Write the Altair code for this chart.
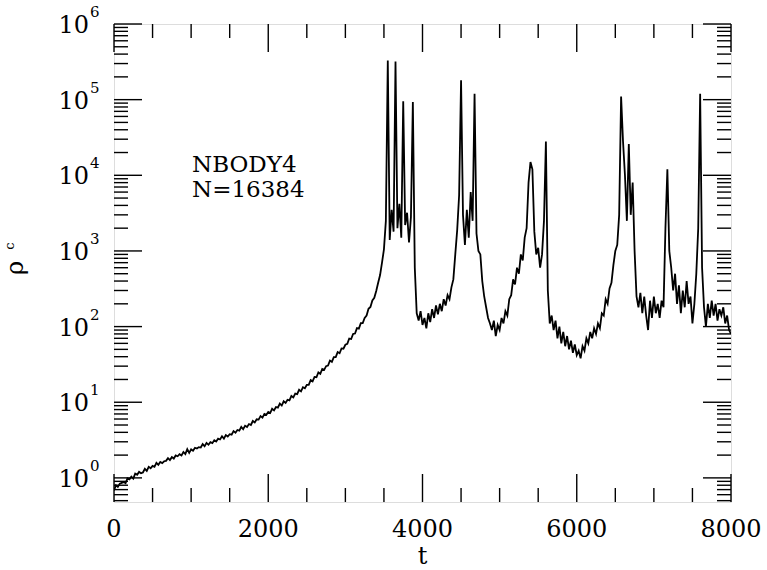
import altair as alt
import pandas as pd

FONT = "DejaVu Serif"

rho = [
    0.68, 0.80, 0.76, 0.84, 0.86, 0.88, 0.85, 0.99, 0.96, 1.04,
    0.98, 1.14, 1.10, 1.20, 1.15, 1.18, 1.32, 1.24, 1.40, 1.34,
    1.44, 1.40, 1.58, 1.49, 1.62, 1.57, 1.66, 1.68, 1.82, 1.72,
    1.88, 1.80, 1.98, 1.93, 2.06, 1.98, 2.20, 2.06, 2.40, 2.14,
    2.38, 2.28, 2.50, 2.44, 2.55, 2.52, 2.80, 2.62, 2.90, 2.74,
    2.96, 2.88, 3.15, 3.02, 3.30, 3.22, 3.55, 3.30, 3.68, 3.52,
    3.78, 3.72, 4.15, 3.96, 4.30, 4.22, 4.72, 4.40, 4.90, 4.72,
    5.15, 5.00, 5.65, 5.40, 5.95, 5.90, 6.55, 6.25, 7.00, 6.80,
    7.45, 7.20, 8.20, 7.80, 8.65, 8.50, 9.60, 9.05, 10.3, 9.80,
    10.8, 10.6, 12.1, 11.6, 13.0, 12.8, 14.6, 13.9, 15.8, 15.3,
    17.0, 17.0, 19.6, 18.9, 21.6, 21.4, 24.8, 23.8, 27.6, 26.8,
    30.0, 30.5, 35.5, 34.2, 39.5, 39.6, 46.0, 44.4, 51.5, 51.0,
    57.5, 59.0, 69.5, 68.5, 80.0, 81.0, 95.5, 94.0, 111, 111,
    130, 140, 172, 182, 222, 240, 295, 380, 480, 700,
    1050, 2500, 330000, 1400, 3500, 1800, 320000, 2000, 4200, 1500,
    95000, 2200, 3200, 1300, 2800, 93000, 600, 150, 120, 160,
    105, 130, 95, 150, 115, 170, 130, 190, 145, 200,
    160, 230, 190, 260, 230, 330, 420, 900, 1900, 5500,
    180000, 3000, 1200, 3500, 1500, 6000, 2500, 120000, 1700, 1000,
    900, 400, 250, 180, 130, 110, 90, 120, 75, 105,
    90, 130, 110, 160, 140, 230, 260, 420, 360, 600,
    500, 900, 750, 1500, 2000, 8000, 15000, 12000, 1800, 900,
    1100, 600, 900, 2500, 28000, 300, 110, 140, 90, 120,
    70, 100, 60, 85, 55, 75, 50, 65, 45, 58,
    42, 48, 38, 55, 48, 70, 60, 85, 70, 95,
    80, 110, 95, 150, 140, 230, 200, 320, 380, 650,
    1000, 1200, 3000, 110000, 28000, 10000, 2500, 26000, 3000, 8000,
    1000, 250, 180, 280, 150, 250, 140, 90, 220, 130,
    250, 150, 200, 130, 220, 180, 2000, 12000, 1000, 600,
    300, 500, 200, 350, 150, 300, 180, 400, 200, 250,
    110, 200, 500, 2000, 120000, 600, 180, 100, 200, 130,
    220, 140, 200, 120, 170, 140, 180, 110, 140, 90,
    80,
]
t = [25 * i for i in range(len(rho))]

x_labels = [0, 2000, 4000, 6000, 8000]
x_minor = [500, 1000, 1500, 2500, 3000, 3500, 4500, 5000, 5500, 6500, 7000, 7500]
y_major = [1, 10, 100, 1000, 10000, 100000, 1000000]
y_exp = ["0", "1", "2", "3", "4", "5", "6"]
y_minor = [0.5, 0.6, 0.7, 0.8, 0.9] + [k * 10 ** d for d in range(0, 6) for k in range(2, 10)]

W, H = 617, 478
MAJ, MIN = 28, 14

df = pd.DataFrame({"t": t, "rho": rho})
xmaj = pd.DataFrame({"v": x_labels, "lab": [str(v) for v in x_labels]})
xmin = pd.DataFrame({"v": x_minor})
ymaj = pd.DataFrame({"v": y_major, "e": y_exp, "base": ["10"] * len(y_major)})
ymin = pd.DataFrame({"v": y_minor})

xs = alt.Scale(domain=[0, 8000], nice=False, zero=False)
ys = alt.Scale(type="log", domain=[0.48, 1e6], nice=False)

line = alt.Chart(df).mark_line(color="black", strokeWidth=1.8, clip=True).encode(
    x=alt.X("t:Q", scale=xs, axis=None),
    y=alt.Y("rho:Q", scale=ys, axis=None),
)

def xticks(data, length, top):
    y0 = 0 if top else H
    y1 = length if top else H - length
    return alt.Chart(data).mark_rule(color="black", strokeWidth=1.4).encode(
        x=alt.X("v:Q", scale=xs, axis=None), y=alt.value(y0), y2=alt.value(y1))

def yticks(data, length, right):
    x0 = W if right else 0
    x1 = W - length if right else length
    return alt.Chart(data).mark_rule(color="black", strokeWidth=1.4).encode(
        y=alt.Y("v:Q", scale=ys, axis=None), x=alt.value(x0), x2=alt.value(x1))

ticks = [
    xticks(xmaj, MAJ, False), xticks(xmaj, MAJ, True),
    xticks(xmin, MIN, False), xticks(xmin, MIN, True),
    yticks(ymaj, MAJ, False), yticks(ymaj, MAJ, True),
    yticks(ymin, MIN, False), yticks(ymin, MIN, True),
]

xlab = alt.Chart(xmaj).mark_text(align="center", baseline="alphabetic", fontSize=24,
                                 font=FONT, color="black").encode(
    x=alt.X("v:Q", scale=xs, axis=None), y=alt.value(H + 35), text="lab:N")

ybase = alt.Chart(ymaj).mark_text(align="right", baseline="alphabetic", dy=9, fontSize=24,
                                  font=FONT, color="black").encode(
    y=alt.Y("v:Q", scale=ys, axis=None), x=alt.value(-25), text="base:N")

exps = alt.Chart(ymaj).mark_text(align="left", baseline="alphabetic", dy=-7, fontSize=15,
                                 font=FONT, color="black").encode(
    y=alt.Y("v:Q", scale=ys, axis=None), x=alt.value(-24), text="e:N")

label_lines = ["NBODY4", "N=16384"]
note1 = alt.Chart(pd.DataFrame({"txt": [label_lines[0]]})).mark_text(
    align="left", baseline="alphabetic", fontSize=23, font=FONT, color="black").encode(
    x=alt.value(78), y=alt.value(148), text="txt:N")
note2 = alt.Chart(pd.DataFrame({"txt": [label_lines[1]]})).mark_text(
    align="left", baseline="alphabetic", fontSize=23, font=FONT, color="black").encode(
    x=alt.value(78), y=alt.value(173), text="txt:N")

xtitle = alt.Chart(pd.DataFrame({"txt": ["t"]})).mark_text(
    align="center", baseline="alphabetic", fontSize=24, font=FONT, color="black").encode(
    x=alt.value(W / 2), y=alt.value(540), text="txt:N")
ytitle = alt.Chart(pd.DataFrame({"txt": ["ρ"]})).mark_text(
    align="center", baseline="alphabetic", angle=270, fontSize=24, font=FONT, color="black").encode(
    x=alt.value(-91), y=alt.value(244), text="txt:N")
ysub = alt.Chart(pd.DataFrame({"txt": ["c"]})).mark_text(
    align="center", baseline="alphabetic", angle=270, fontSize=13, font=FONT, color="black").encode(
    x=alt.value(-100), y=alt.value(222), text="txt:N")

chart = alt.layer(line, *ticks, xlab, ybase, exps, note1, note2, xtitle, ytitle, ysub).properties(
    width=W, height=H,
    autosize=alt.AutoSizeParams(type="none"),
    padding={"left": 114, "top": 24, "right": 36, "bottom": 68},
).configure_view(stroke="black", strokeWidth=2).configure(background="white")

chart.save("out.html", embed_options={"renderer": "svg", "actions": False})
